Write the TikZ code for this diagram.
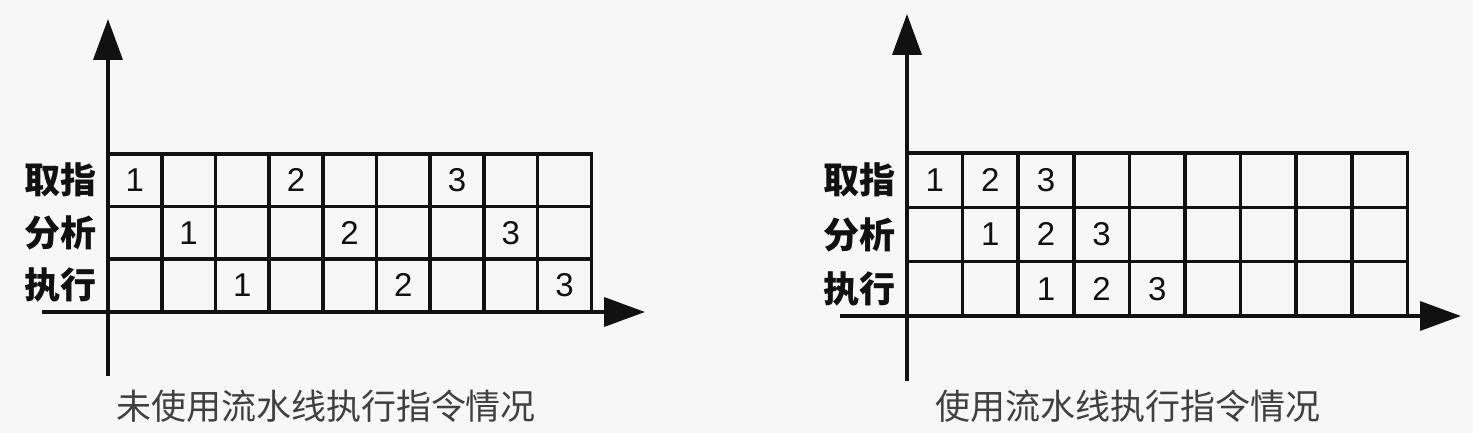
\documentclass[tikz,border=0pt]{standalone}
\usepackage{fontspec}
\setmainfont{Liberation Sans}
\newfontfamily\cjk{Noto Sans CJK SC}
\usetikzlibrary{%
    arrows.meta,
    matrix,
    positioning
}
\definecolor{paper}{HTML}{F7F7F7}
\definecolor{ink}{HTML}{111111}
\tikzset{headarrow/.style = {-{Triangle[length=41pt,width=29pt]}}}
\tikzset{axis/.style = {draw=ink, line width=3.6pt, headarrow}}
\tikzset{cell/.style = {draw=ink, line width=3.6pt, outer sep=0pt, inner sep=0pt,
    anchor=center, font=\fontsize{33}{36}\selectfont, text=ink}}
\tikzset{stage/.style = {inner sep=0pt, font=\cjk\bfseries\fontsize{36}{40}\selectfont, text=ink}}
\tikzset{caption/.style = {inner sep=0pt, font=\cjk\fontsize{35}{40}\selectfont, text=black!75}}

\begin{document}
\begin{tikzpicture}[x=1pt, y=-1pt]
    \useasboundingbox[fill=paper] (0,0) rectangle (1473,433);

    % without pipelining
    \matrix (plain) [matrix of nodes, nodes in empty cells, anchor=north west,
        inner sep=0pt, outer sep=0pt, column sep=-3.6pt, row sep=-3.6pt,
        nodes={cell, minimum width=53.7pt, minimum height=52.5pt}] at (106.2,152.2) {
        1 & & & 2 & & & 3 & & \\
        & 1 & & & 2 & & & 3 & \\
        & & 1 & & & 2 & & & 3 \\
    };
    \coordinate (plainYs) at (108,376);
    \coordinate (plainYe) at (108,19);
    \coordinate (plainXs) at (42,312);
    \coordinate (plainXe) at (645,312);

    \node (plainfetch) [stage, left=11pt of plain-1-1] {取指};
    \node (plaindecode) [stage, left=11pt of plain-2-1] {分析};
    \node (plainexec) [stage, left=11pt of plain-3-1] {执行};
    \node (plaincap) [caption] at (326,406) {未使用流水线执行指令情况};

    % with pipelining
    \matrix (pipe) [matrix of nodes, nodes in empty cells, anchor=north west,
        inner sep=0pt, outer sep=0pt, column sep=-3.6pt, row sep=-3.6pt,
        nodes={cell, minimum width=55.6pt, minimum height=54.3pt}] at (905.2,151.2) {
        1 & 2 & 3 & & & & & & \\
        & 1 & 2 & 3 & & & & & \\
        & & 1 & 2 & 3 & & & & \\
    };
    \coordinate (pipeYs) at (907,381);
    \coordinate (pipeYe) at (907,14);
    \coordinate (pipeXs) at (840,316);
    \coordinate (pipeXe) at (1461,316);

    \node (pipefetch) [stage, left=11pt of pipe-1-1] {取指};
    \node (pipedecode) [stage, left=11pt of pipe-2-1] {分析};
    \node (pipeexec) [stage, left=11pt of pipe-3-1] {执行};
    \node (pipecap) [caption] at (1128,406) {使用流水线执行指令情况};

    \foreach \Source/\Target in {plainYs/plainYe, plainXs/plainXe, pipeYs/pipeYe, pipeXs/pipeXe}
        \draw[axis] (\Source) to (\Target);
\end{tikzpicture}
\end{document}
